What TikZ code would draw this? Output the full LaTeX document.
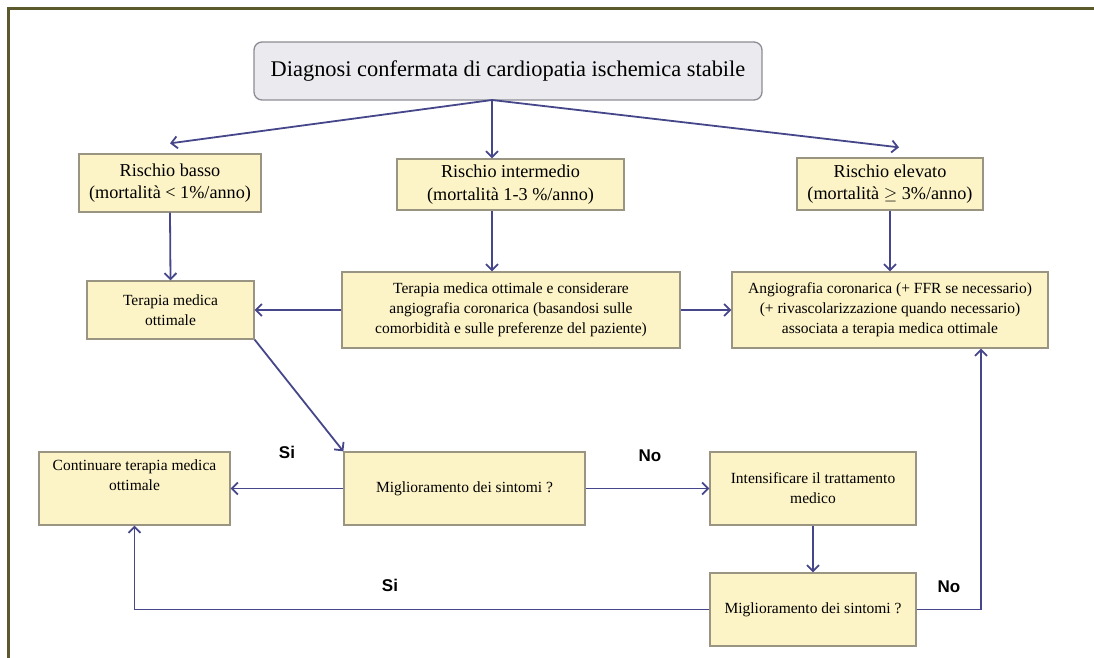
\documentclass[tikz,border=0pt]{standalone}
\usepackage{fontspec}
\setmainfont{Liberation Serif}
\newfontfamily\lblfont{Liberation Sans}
\usetikzlibrary{arrows.meta}

\definecolor{framecol}{HTML}{5C5A2C}
\definecolor{arrcol}{HTML}{46468A}
\definecolor{boxfill}{HTML}{FCF3C6}
\definecolor{boxline}{HTML}{9A9483}
\definecolor{topfill}{HTML}{EBEBEF}
\definecolor{topline}{HTML}{8C8C94}

\tikzset{
  box/.style={draw=boxline,fill=boxfill,line width=1.3pt,inner sep=0pt,align=center,font=\fontsize{15.5}{20}\selectfont},
  riskbox/.style={box,font=\fontsize{18.2}{22.5}\selectfont},
  arr/.style={-{Straight Barb[length=6pt,width=12pt]},draw=arrcol,line width=1.8pt},
  lbl/.style={font=\lblfont\bfseries\fontsize{17}{20}\selectfont}
}

\begin{document}
\begin{tikzpicture}[x=1pt,y=-1pt]
\useasboundingbox (0,0) rectangle (1094,658);

% Frame
\draw[framecol,line width=3pt] (8,658) -- (8,9) -- (1094,9);

% Diagnosis
\node[draw=topline,fill=topfill,line width=1.3pt,rounded corners=8pt,minimum width=508pt,minimum height=58pt,font=\fontsize{22.4}{26}\selectfont] (diag) at (508,71) {Diagnosi confermata di cardiopatia ischemica stabile};
\coordinate (split) at (492,100);

% Risk levels
\node[riskbox,minimum width=182pt,minimum height=58pt] (basso) at (170,183) {Rischio basso\\(mortalità < 1\%/anno)};
\node[riskbox,minimum width=227pt,minimum height=51pt] (inter) at (510.5,184.5) {Rischio intermedio\\(mortalità 1-3 \%/anno)};
\node[riskbox,minimum width=186pt,minimum height=52pt] (elev) at (890,184) {Rischio elevato\\(mortalità $\geq$ 3\%/anno)};

% Therapy
\node[box,minimum width=167pt,minimum height=58pt] (ter) at (170.5,310) {Terapia medica\\ottimale};
\node[box,minimum width=338pt,minimum height=76pt] (cons) at (511,310) {Terapia medica ottimale e considerare\\angiografia coronarica (basandosi sulle\\comorbidità e sulle preferenze del paziente)};
\node[box,minimum width=316pt,minimum height=76pt] (angio) at (890,310) {Angiografia coronarica (+ FFR se necessario)\\(+ rivascolarizzazione quando necessario)\\associata a terapia medica ottimale};

% Follow-up
\node[box,minimum width=191pt,minimum height=73pt] (cont) at (134.5,488.5) {Continuare terapia medica\\ottimale\\\strut};
\node[box,minimum width=241pt,minimum height=73pt] (migl1) at (464.5,488.5) {Miglioramento dei sintomi ?};
\node[box,minimum width=206pt,minimum height=73pt] (int) at (813,488.5) {Intensificare il trattamento\\medico};
\node[box,minimum width=206pt,minimum height=73pt] (migl2) at (813,609.5) {Miglioramento dei sintomi ?};

% Labels
\node[lbl] (si1) at (287,452) {Si};
\node[lbl] (no1) at (650,456) {No};
\node[lbl] (si2) at (390,585) {Si};
\node[lbl] (no2) at (949,587) {No};

% Arrows
\draw[arr] (split) -- ([yshift=10pt]basso.north);
\draw[arr] (split) -- (split |- inter.north);
\draw[arr] (split) -- ([xshift=9pt,yshift=10pt]elev.north);
\draw[arr] (basso.south) -- (ter.north);
\draw[arr] (split |- inter.south) -- (split |- cons.north);
\draw[arr] (elev.south) -- (angio.north);
\draw[arr] (cons.west) -- (ter.east);
\draw[arr] (cons.east) -- (angio.west);
\draw[arr] (ter.south east) -- (migl1.north west);
\draw[arr] (migl1.west) -- (cont.east);
\draw[arr] (migl1.east) -- (int.west);
\draw[arr] (int.south) -- (migl2.north);
\draw[arr] (migl2.west) -| (cont.south);
\draw[arr] (migl2.east) -| ([xshift=91pt]angio.south);

\end{tikzpicture}
\end{document}
